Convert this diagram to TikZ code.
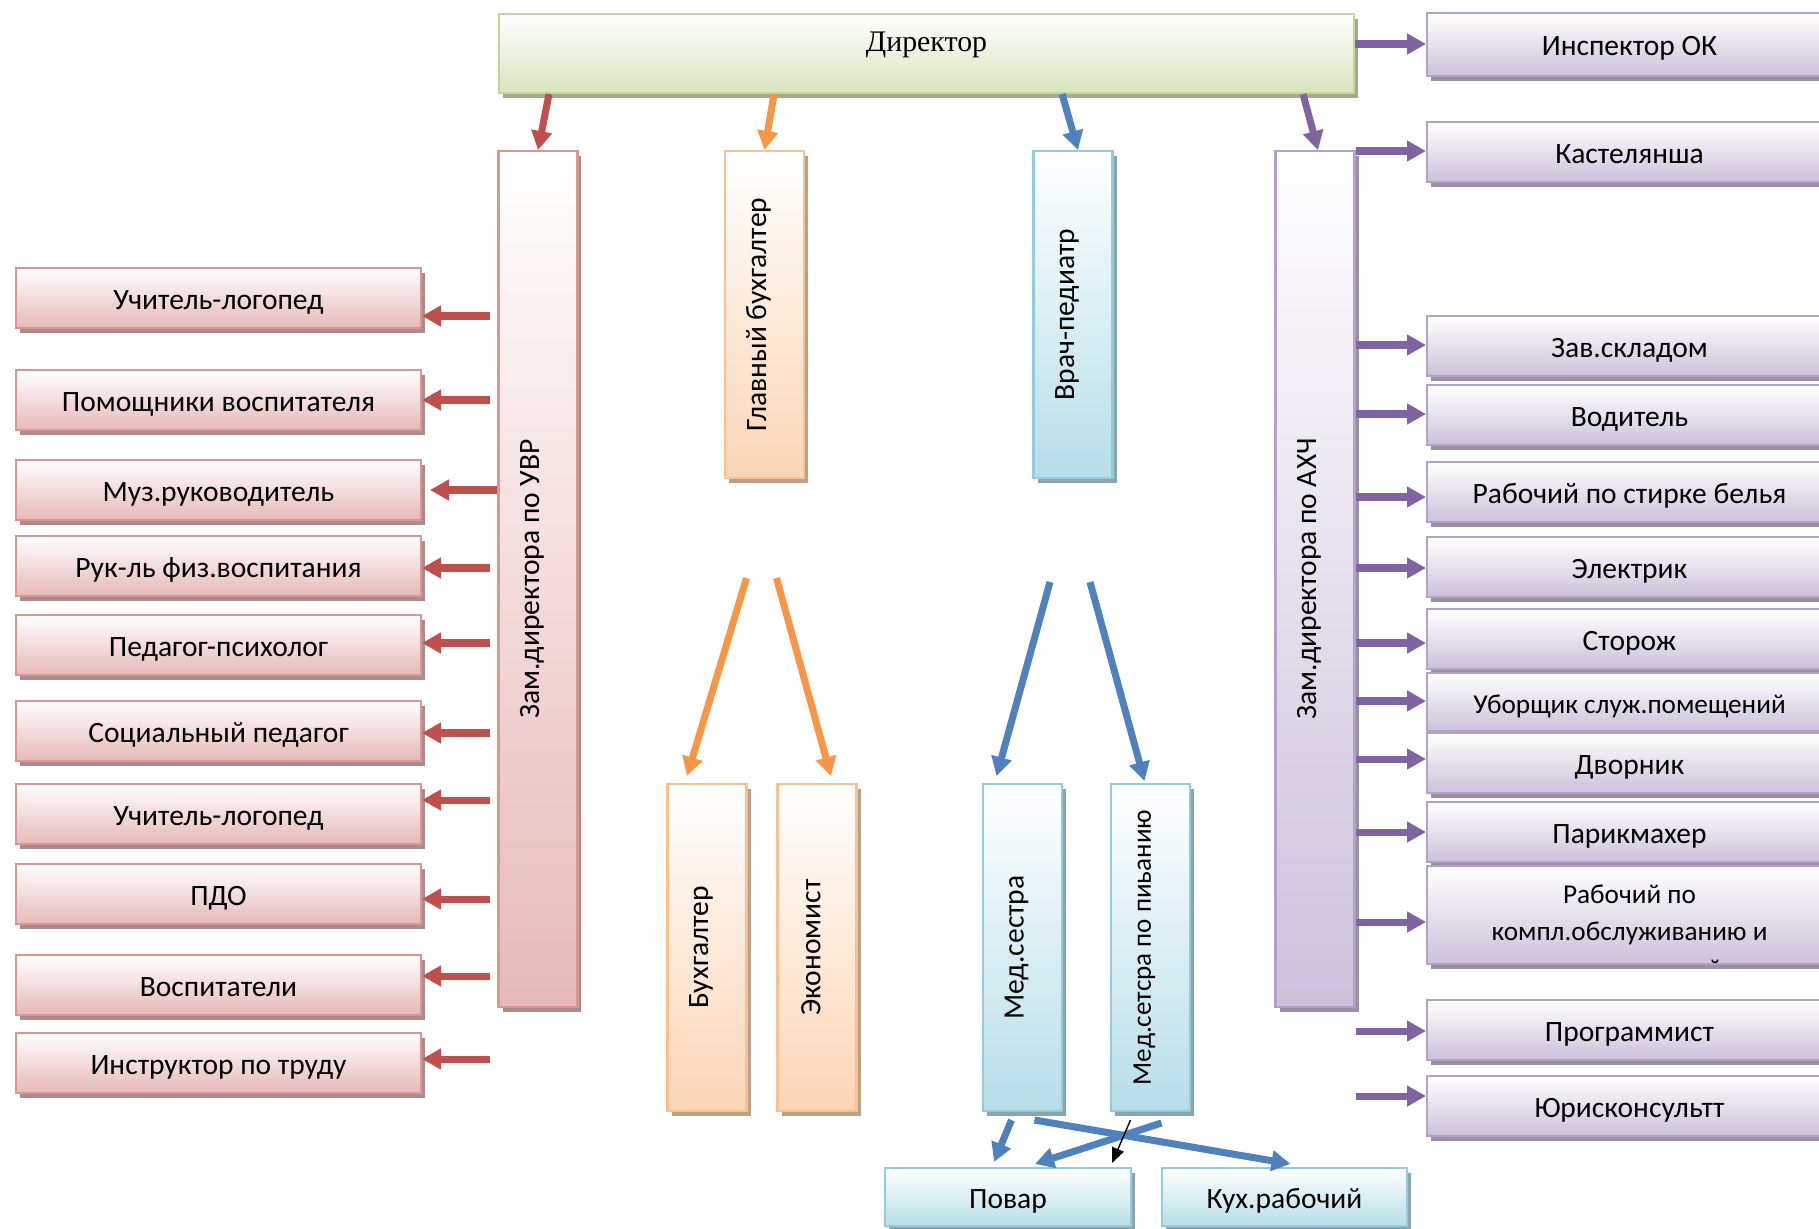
\documentclass[tikz,border=0pt]{standalone}
\usepackage{fontspec}
\setmainfont{Carlito}
\newfontfamily\dirfont{Liberation Serif}
\usepackage{graphicx}
\usetikzlibrary{positioning}
\usetikzlibrary{arrows.meta, calc, shadows}

\definecolor{redline}{HTML}{D99694}
\definecolor{redfill}{HTML}{E6B9B8}
\definecolor{redarrow}{HTML}{C0504D}
\definecolor{orline}{HTML}{FAC090}
\definecolor{orfill}{HTML}{FBD5B5}
\definecolor{orarrow}{HTML}{F79646}
\definecolor{blline}{HTML}{93CDDD}
\definecolor{blfill}{HTML}{B7DEE8}
\definecolor{blarrow}{HTML}{4F81BD}
\definecolor{puline}{HTML}{B3A2C7}
\definecolor{pufill}{HTML}{CCC1DA}
\definecolor{puarrow}{HTML}{8064A2}
\definecolor{grline}{HTML}{C3D69B}
\definecolor{grfill}{HTML}{D7E4BD}

% rotated text, set a little to the left of the box centre
\newcommand{\vtext}[1]{\rotatebox{90}{\raisebox{0.12cm}[\height][\depth]{#1}}}

\tikzset{
  box/.style={draw, line width=1.2pt, inner sep=0pt, top color=white, font=\fontsize{16.8}{20}\selectfont},
  hbox/.style={box, text height=13pt, text depth=0pt},
  redbox/.style={draw=redline, bottom color=redfill, drop shadow={shadow xshift=0.08cm, shadow yshift=-0.1cm, fill=redfill!75!black, opacity=1}},
  orbox/.style={draw=orline, bottom color=orfill, drop shadow={shadow xshift=0.08cm, shadow yshift=-0.1cm, fill=orfill!75!black, opacity=1}},
  blbox/.style={draw=blline, bottom color=blfill, drop shadow={shadow xshift=0.08cm, shadow yshift=-0.1cm, fill=blfill!75!black, opacity=1}},
  pubox/.style={draw=puline, bottom color=pufill, drop shadow={shadow xshift=0.08cm, shadow yshift=-0.1cm, fill=pufill!75!black, opacity=1}},
  grbox/.style={draw=grline, bottom color=grfill, drop shadow={shadow xshift=0.08cm, shadow yshift=-0.1cm, fill=grfill!75!black, opacity=1}},
  leftbox/.style={hbox, redbox, minimum width=8.1cm, minimum height=1.2cm},
  rightbox/.style={hbox, pubox, minimum width=8.1cm, minimum height=1.2cm},
  colbox/.style={box, minimum width=1.58cm},
  arr/.style={line width=4pt, -{Triangle[length=0.38cm,width=0.4cm]}},
  redarr/.style={arr, draw=redarrow, fill=redarrow, shorten <=0.14cm},
  orarr/.style={arr, draw=orarrow, fill=orarrow},
  blarr/.style={arr, draw=blarrow, fill=blarrow},
  puarr/.style={arr, draw=puarrow, fill=puarrow},
}

\begin{document}
\begin{tikzpicture}[x=0.02cm, y=-0.02cm]
\useasboundingbox (0,0) rectangle (1819,1228);
\clip (0,0) rectangle (1819,1228);

% top and columns
\node[box, grbox, minimum width=17.1cm, minimum height=1.58cm, text height=0.45cm, text depth=0.55cm, font=\dirfont\fontsize{17}{20}\selectfont] (dir) at (926.5,53.5) {Директор};
\node[colbox, redbox, minimum height=17.12cm] (uvr) at (538,579) {\vtext{Зам.директора по УВР}};
\node[colbox, orbox, minimum height=6.54cm] (gb) at (764.5,314.5) {\vtext{Главный бухгалтер}};
\node[colbox, blbox, minimum height=6.54cm] (vp) at (1073,314.5) {\vtext{Врач-педиатр}};
\node[colbox, pubox, minimum height=17.12cm] (ahc) at (1315,579) {\vtext{Зам.директора по АХЧ}};

\node[colbox, orbox, minimum height=6.54cm] (buh) at (707,947.5) {\vtext{Бухгалтер}};
\node[colbox, orbox, minimum height=6.54cm] (eco) at (817,947.5) {\vtext{Экономист}};
\node[colbox, blbox, minimum height=6.54cm] (ms) at (1022.5,947.5) {\vtext{Мед.сестра}};
\node[colbox, blbox, minimum height=6.54cm, font=\fontsize{15.4}{18}\selectfont] (msp) at (1150.5,947.5) {\vtext{Мед.сетсра по пиьанию}};
\node[hbox, blbox, minimum width=4.92cm, minimum height=1.16cm] (povar) at (1008,1197) {Повар};
\node[hbox, blbox, minimum width=4.9cm, minimum height=1.16cm] (kuh) at (1284.5,1197) {Кух.рабочий};

% left column
\node[leftbox] (l1) at (218.5,298) {Учитель-логопед};
\node[leftbox] (l2) at (218.5,400) {Помощники воспитателя};
\node[leftbox] (l3) at (218.5,490) {Муз.руководитель};
\node[leftbox] (l4) at (218.5,566) {Рук-ль физ.воспитания};
\node[leftbox] (l5) at (218.5,645) {Педагог-психолог};
\node[leftbox] (l6) at (218.5,731) {Социальный педагог};
\node[leftbox] (l7) at (218.5,814) {Учитель-логопед};
\node[leftbox] (l8) at (218.5,894) {ПДО};
\node[leftbox] (l9) at (218.5,985) {Воспитатели};
\node[leftbox] (l10) at (218.5,1063) {Инструктор по труду};

% right column
\node[rightbox, minimum height=1.26cm] (r1) at (1629.5,44.5) {Инспектор ОК};
\node[rightbox] (r2) at (1629.5,152) {Кастелянша};
\node[rightbox] (r3) at (1629.5,346) {Зав.складом};
\node[rightbox] (r4) at (1629.5,415) {Водитель};
\node[rightbox] (r5) at (1629.5,492) {Рабочий по стирке белья};
\node[rightbox] (r6) at (1629.5,567) {Электрик};
\node[rightbox] (r7) at (1629.5,639) {Сторож};
\node[rightbox, minimum height=1.16cm, font=\fontsize{15.5}{18}\selectfont] (r8) at (1629.5,702) {Уборщик служ.помещений};
\node[rightbox] (r9) at (1629.5,763) {Дворник};
\node[rightbox] (r10) at (1629.5,832) {Парикмахер};
\node[box, pubox, minimum width=8.1cm, minimum height=1.96cm, align=center, font=\fontsize{15.5}{21.5}\selectfont] (r11) at (1629.5,915) {Рабочий по\\компл.обслуживанию и};
\node[font=\fontsize{15.5}{18}\selectfont, inner sep=0pt] (r11m) at (1715,969) {˘};
\node[rightbox] (r12) at (1629.5,1030) {Программист};
\node[rightbox] (r13) at (1629.5,1106) {Юрисконсультт};

% from director
\draw[redarr, shorten <=0pt] ($(dir.south west)+(51,0)$) -- (uvr.north);
\draw[orarr] ($(dir.south west)+(276,0)$) -- (gb.north);
\draw[blarr] ($(dir.south west)+(564,0)$) -- ($(vp.north)+(5,0)$);
\draw[puarr] ($(dir.south west)+(805,0)$) -- ($(ahc.north)+(3,0)$);

% left arrows
\draw[redarr] (uvr.west |- 0,316) -- (l1.east |- 0,316);
\draw[redarr] (uvr.west |- 0,400) -- (l2.east |- 0,400);
\draw[redarr, shorten <=0pt, shorten >=0.16cm] (uvr.west |- 0,490) -- (l3.east |- 0,490);
\draw[redarr] (uvr.west |- 0,568) -- (l4.east |- 0,568);
\draw[redarr] (uvr.west |- 0,643) -- (l5.east |- 0,643);
\draw[redarr] (uvr.west |- 0,733) -- (l6.east |- 0,733);
\draw[redarr] (uvr.west |- 0,800) -- (l7.east |- 0,800);
\draw[redarr] (uvr.west |- 0,899) -- (l8.east |- 0,899);
\draw[redarr] (uvr.west |- 0,976) -- (l9.east |- 0,976);
\draw[redarr] (uvr.west |- 0,1059) -- (l10.east |- 0,1059);

% right arrows
\draw[puarr] (dir.east |- 0,44) -- (r1.west |- 0,44);
\draw[puarr] (ahc.east |- 0,151) -- (r2.west |- 0,151);
\draw[puarr] (ahc.east |- 0,345) -- (r3.west |- 0,345);
\draw[puarr] (ahc.east |- 0,414) -- (r4.west |- 0,414);
\draw[puarr] (ahc.east |- 0,497) -- (r5.west |- 0,497);
\draw[puarr] (ahc.east |- 0,568) -- (r6.west |- 0,568);
\draw[puarr] (ahc.east |- 0,643) -- (r7.west |- 0,643);
\draw[puarr] (ahc.east |- 0,701) -- (r8.west |- 0,701);
\draw[puarr] (ahc.east |- 0,759) -- (r9.west |- 0,759);
\draw[puarr] (ahc.east |- 0,832) -- (r10.west |- 0,832);
\draw[puarr] (ahc.east |- 0,922) -- (r11.west |- 0,922);
\draw[puarr] (ahc.east |- 0,1031) -- (r12.west |- 0,1031);
\draw[puarr] (ahc.east |- 0,1096) -- (r13.west |- 0,1096);

% middle arrows
\draw[orarr] ($(gb.south)+(-18,99)$) -- ($(buh.north)+(-20,-7)$);
\draw[orarr] ($(gb.south)+(12,99)$) -- ($(eco.north)+(14,-7)$);
\draw[blarr] ($(vp.south)+(-23,103)$) -- ($(ms.north)+(-26,-7)$);
\draw[blarr] ($(vp.south)+(17,103)$) -- ($(msp.north)+(-6,-2)$);

% bottom arrows
\draw[blarr] ($(ms.south)+(-11,8)$) -- ($(povar.north)+(-14,-5)$);
\draw[blarr] ($(ms.south)+(12,8)$) -- ($(kuh.north)+(6,-3)$);
\draw[blarr] ($(msp.south)+(11,11)$) -- ($(povar.north)+(27,-3)$);
\draw[line width=0.8pt, -{Triangle[length=0.3cm,width=0.25cm]}] ($(msp.south)+(-20,8)$) -- ($(povar.north)+(104,-4)$);

\end{tikzpicture}
\end{document}
